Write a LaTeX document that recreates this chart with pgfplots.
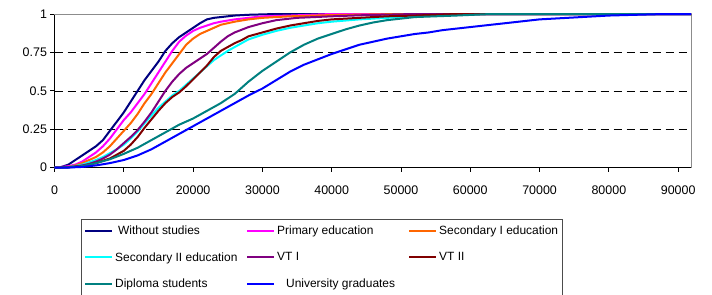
\documentclass[border=0pt]{standalone}
\usepackage{fontspec}
\setmainfont{Liberation Sans}
\usepackage{pgfplots}
\pgfplotsset{compat=1.18}
\definecolor{cnavy}{RGB}{0,0,128}
\definecolor{cmag}{RGB}{255,0,255}
\definecolor{corange}{RGB}{255,102,0}
\definecolor{ccyan}{RGB}{0,255,255}
\definecolor{cpurple}{RGB}{128,0,128}
\definecolor{cbrown}{RGB}{128,0,0}
\definecolor{cteal}{RGB}{0,128,128}
\definecolor{cblue}{RGB}{0,0,255}
\newcommand{\lb}[1]{\makebox[129bp][l]{#1}}
\begin{document}
\begin{tikzpicture}
\begin{axis}[
  scale only axis, width=636.5bp, height=153.7bp,
  at={(54.5bp,-167.7bp)}, anchor=south west,
  xmin=0, xmax=91850, ymin=0, ymax=1,
  clip=false,
  scaled x ticks=false, scaled y ticks=false,
  axis x line*=bottom, axis y line*=left,
  axis line style={black, line width=0.8bp},
  xtick={0,10000,20000,30000,40000,50000,60000,70000,80000,90000},
  xticklabels={0,10000,20000,30000,40000,50000,60000,70000,80000,90000},
  ytick={0,0.25,0.5,0.75,1},
  yticklabels={0,0.25,0.5,0.75,1},
  tick align=outside, major tick length=4bp,
  tick style={black, line width=0.8bp},
  ymajorgrids,
  grid style={black, line width=0.6bp, dash pattern=on 8bp off 5bp},
  ticklabel style={font=\fontsize{12.5}{15}\selectfont},
  xticklabel style={yshift=-11bp},
  every axis plot/.append style={line width=2bp, line join=round},
  legend columns=3,
  legend cell align=left,
  legend image code/.code={\draw[#1] (0bp,0bp) -- (27bp,0bp);},
  legend style={at={(0.0416,-0.3533)}, anchor=north west,
    draw=none, fill=none, font=\fontsize{12}{14}\selectfont,
    inner xsep=3bp, inner ysep=2bp, row sep=12bp,
    nodes={inner sep=2bp}},
]
\draw[black!45, line width=0.8bp] (rel axis cs:0,1) -- (rel axis cs:1,1) -- (rel axis cs:1,0);

\addplot[cnavy] coordinates {(0,0)(1000,0.005)(2000,0.02)(3000,0.05)(4000,0.08)(5000,0.11)(6000,0.14)(7000,0.18)(8000,0.24)(9000,0.30)(10000,0.36)(11000,0.43)(12000,0.50)(13000,0.57)(14000,0.63)(15000,0.69)(16000,0.76)(17000,0.81)(18000,0.85)(19000,0.88)(20000,0.91)(21000,0.94)(22000,0.965)(23000,0.975)(24000,0.98)(26000,0.99)(28000,0.995)(32000,1)(91850,1)};
\addlegendentry{\lb{\hspace{3bp}Without studies}}

\addplot[cmag] coordinates {(0,0)(2000,0.01)(3000,0.02)(4000,0.04)(5000,0.07)(6000,0.10)(7000,0.14)(8000,0.19)(9000,0.25)(10000,0.31)(11000,0.36)(12000,0.42)(13000,0.48)(14000,0.55)(15000,0.62)(16000,0.69)(17000,0.76)(18000,0.82)(19000,0.86)(20000,0.89)(21000,0.91)(22000,0.925)(23000,0.94)(24000,0.95)(26000,0.965)(28000,0.975)(30000,0.985)(34000,0.99)(40000,1)(91850,1)};
\addlegendentry{\lb{Primary education}}

\addplot[corange] coordinates {(0,0)(2000,0.005)(3000,0.015)(4000,0.03)(5000,0.05)(6000,0.07)(7000,0.10)(8000,0.14)(9000,0.19)(10000,0.24)(11000,0.29)(12000,0.35)(13000,0.42)(14000,0.48)(15000,0.55)(16000,0.62)(17000,0.68)(18000,0.74)(19000,0.80)(20000,0.84)(21000,0.87)(22000,0.89)(23000,0.91)(24000,0.93)(26000,0.95)(28000,0.965)(30000,0.975)(34000,0.985)(40000,0.993)(50000,1)(91850,1)};
\addlegendentry{Secondary I education}

\addplot[ccyan] coordinates {(0,0)(2000,0.003)(4000,0.02)(5000,0.035)(6000,0.05)(7000,0.07)(8000,0.095)(9000,0.12)(10000,0.15)(11000,0.19)(12000,0.235)(13000,0.29)(14000,0.34)(15000,0.39)(16000,0.43)(17000,0.47)(18000,0.50)(19000,0.54)(20000,0.58)(21000,0.62)(22000,0.66)(23000,0.70)(24000,0.73)(25000,0.76)(26000,0.785)(27000,0.81)(28000,0.835)(30000,0.865)(32000,0.89)(34000,0.91)(36000,0.925)(38000,0.94)(40000,0.95)(44000,0.965)(48000,0.975)(52000,0.985)(56000,0.99)(62000,1)(91850,1)};
\addlegendentry{\lb{Secondary II education}}

\addplot[cpurple] coordinates {(0,0)(2000,0.003)(4000,0.015)(5000,0.025)(6000,0.04)(7000,0.06)(8000,0.085)(9000,0.12)(10000,0.16)(11000,0.20)(12000,0.245)(13000,0.30)(14000,0.36)(15000,0.43)(16000,0.50)(17000,0.56)(18000,0.61)(19000,0.65)(20000,0.68)(21000,0.71)(22000,0.74)(23000,0.78)(24000,0.82)(25000,0.855)(26000,0.88)(28000,0.915)(30000,0.94)(32000,0.96)(35000,0.975)(40000,0.985)(45000,0.993)(52000,1)(91850,1)};
\addlegendentry{\lb{VT I}}

\addplot[cbrown] coordinates {(0,0)(2000,0.003)(4000,0.01)(5000,0.02)(6000,0.03)(7000,0.045)(8000,0.06)(9000,0.085)(10000,0.11)(11000,0.15)(12000,0.20)(13000,0.26)(14000,0.315)(15000,0.37)(16000,0.42)(17000,0.46)(18000,0.49)(19000,0.53)(20000,0.575)(21000,0.62)(22000,0.665)(23000,0.72)(24000,0.76)(25000,0.785)(26000,0.81)(27000,0.83)(28000,0.855)(30000,0.88)(32000,0.905)(34000,0.925)(36000,0.94)(38000,0.955)(40000,0.965)(44000,0.975)(48000,0.985)(52000,0.99)(58000,1)(91850,1)};
\addlegendentry{VT II}

\addplot[cteal] coordinates {(0,0)(2000,0.002)(4000,0.01)(6000,0.03)(8000,0.055)(10000,0.09)(12000,0.13)(14000,0.18)(16000,0.23)(18000,0.28)(20000,0.32)(22000,0.37)(24000,0.42)(26000,0.48)(28000,0.56)(30000,0.63)(32000,0.69)(34000,0.75)(36000,0.80)(38000,0.84)(40000,0.87)(42000,0.90)(44000,0.925)(46000,0.945)(48000,0.96)(50000,0.97)(52000,0.98)(55000,0.985)(58000,0.99)(63000,1)(91850,1)};
\addlegendentry{\lb{Diploma students}}

\addplot[cblue] coordinates {(0,0)(2000,0.001)(4000,0.005)(6000,0.015)(8000,0.03)(10000,0.05)(12000,0.08)(14000,0.12)(16000,0.17)(18000,0.22)(20000,0.27)(22000,0.32)(24000,0.37)(26000,0.42)(28000,0.47)(30000,0.515)(32000,0.57)(34000,0.625)(36000,0.67)(38000,0.705)(40000,0.74)(42000,0.77)(44000,0.80)(46000,0.82)(48000,0.84)(50000,0.855)(52000,0.87)(54000,0.88)(56000,0.895)(58000,0.905)(60000,0.915)(62000,0.925)(64000,0.935)(66000,0.945)(68000,0.955)(70000,0.965)(72000,0.97)(74000,0.975)(76000,0.98)(78000,0.985)(80000,0.99)(84000,0.995)(88000,1)(91850,1)};
\addlegendentry{\lb{\hspace{9bp}University graduates}}
\end{axis}
\draw[black!70, line width=0.8bp] (81bp,-300bp) -- (81bp,-219bp) -- (562bp,-219bp) -- (562bp,-300bp);
\pgfresetboundingbox
\useasboundingbox (0,0) rectangle (712bp,-295bp);
\end{tikzpicture}
\end{document}
